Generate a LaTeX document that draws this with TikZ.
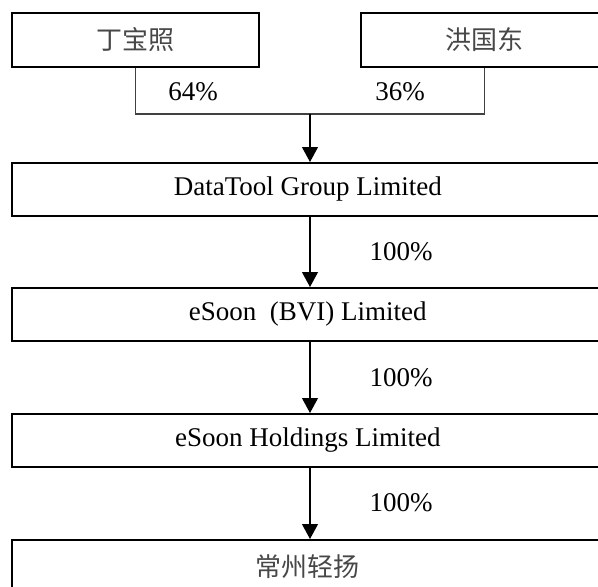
\documentclass[tikz,border=0pt]{standalone}
\usepackage{fontspec}
\setmainfont{Liberation Serif}
\newfontfamily\cjk{Noto Sans CJK SC}
\usetikzlibrary{arrows.meta}
\begin{document}
\begin{tikzpicture}[x=1pt,y=-1pt,
  box/.style={draw=black,line width=1.7pt,rectangle,inner sep=0pt,anchor=north west,
    font=\fontsize{27}{30}\selectfont},
  cjkbox/.style={box,font=\cjk\fontsize{26}{30}\selectfont,text=black!72},
  conn/.style={draw=black!75,line width=1.1pt},
  arr/.style={draw=black,line width=1.1pt,-{Triangle[width=16pt,length=15pt]}},
  pct/.style={font=\fontsize{27}{30}\selectfont,inner sep=0pt}]
\useasboundingbox (0,0) rectangle (598,587);
\clip (0,0) rectangle (598,587);
\node[cjkbox,minimum width=247pt,minimum height=54pt] (p1) at (11,12) {丁宝照};
\node[cjkbox,minimum width=248pt,minimum height=54pt] (p2) at (360,12) {洪国东};
\node[box,minimum width=592pt,minimum height=53pt] (dt) at (11,162) {DataTool Group Limited};
\node[box,minimum width=592pt,minimum height=53pt] (bvi) at (11,287) {eSoon\ \ (BVI) Limited};
\node[box,minimum width=592pt,minimum height=53pt] (hl) at (11,413) {eSoon Holdings\ Limited};
\node[cjkbox,minimum width=592pt,minimum height=53pt] (cz) at (11,539) {常州轻扬};
\coordinate (j) at (310,114);
\draw[conn] (p1.south) |- (j) -| (p2.south);
\draw[arr] (j) -- (dt.north -| j);
\draw[arr] (dt.south -| j) -- (bvi.north -| j);
\draw[arr] (bvi.south -| j) -- (hl.north -| j);
\draw[arr] (hl.south -| j) -- (cz.north -| j);
\node[pct] (l1) at (193,92) {64\%};
\node[pct] (l2) at (400,92) {36\%};
\node[pct] (l3) at (401,252) {100\%};
\node[pct] (l4) at (401,378) {100\%};
\node[pct] (l5) at (401,503) {100\%};
\end{tikzpicture}
\end{document}
